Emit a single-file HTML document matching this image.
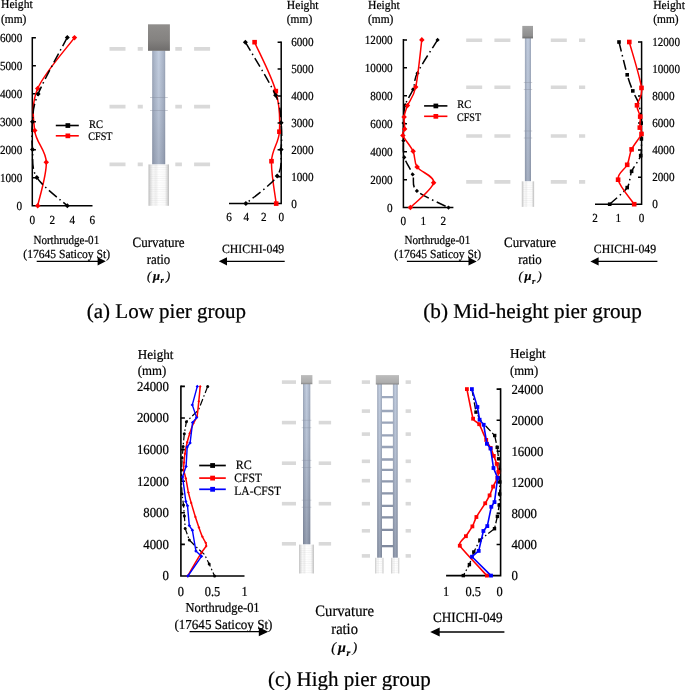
<!DOCTYPE html>
<html><head><meta charset="utf-8"><title>Curvature ratio</title>
<style>html,body{margin:0;padding:0;background:#fff;overflow:hidden}svg{display:block;will-change:transform;opacity:0.999}text{font-family:"Liberation Serif",serif;fill:#000;text-rendering:geometricPrecision;stroke:#000;stroke-width:0.22px}</style>
</head><body>
<svg width="685" height="690" viewBox="0 0 685 690">
<rect width="685" height="690" fill="#fff"/>
<defs>
<linearGradient id="colH" x1="0" x2="1" y1="0" y2="0">
<stop offset="0" stop-color="#98a2b5"/><stop offset="0.14" stop-color="#aab5c8"/><stop offset="0.5" stop-color="#c3cee0"/><stop offset="0.86" stop-color="#aab5c8"/><stop offset="1" stop-color="#98a2b5"/>
</linearGradient>
<linearGradient id="colV" x1="0" x2="0" y1="0" y2="1">
<stop offset="0" stop-color="#000" stop-opacity="0"/><stop offset="0.45" stop-color="#1c2235" stop-opacity="0.05"/><stop offset="1" stop-color="#1c2235" stop-opacity="0.16"/>
</linearGradient>
<linearGradient id="colV2" x1="0" x2="0" y1="0" y2="1">
<stop offset="0" stop-color="#000" stop-opacity="0"/><stop offset="0.35" stop-color="#1c2235" stop-opacity="0.06"/><stop offset="1" stop-color="#1c2235" stop-opacity="0.27"/>
</linearGradient>
<linearGradient id="capV" x1="0" x2="0" y1="0" y2="1">
<stop offset="0" stop-color="#908e8c"/><stop offset="0.6" stop-color="#848280"/><stop offset="1" stop-color="#6f6d6c"/>
</linearGradient>
<linearGradient id="capL" x1="0" x2="0" y1="0" y2="1">
<stop offset="0" stop-color="#bcbcbc"/><stop offset="0.78" stop-color="#adadad"/><stop offset="1" stop-color="#858585"/>
</linearGradient>
<linearGradient id="capM" x1="0" x2="0" y1="0" y2="1">
<stop offset="0" stop-color="#a3a3a3"/><stop offset="0.8" stop-color="#8e8e8e"/><stop offset="1" stop-color="#6c6c6c"/>
</linearGradient>
<linearGradient id="pileH" x1="0" x2="1" y1="0" y2="0">
<stop offset="0" stop-color="#bcbcbc"/><stop offset="0.1" stop-color="#dedede"/><stop offset="0.22" stop-color="#f8f8f8"/><stop offset="0.36" stop-color="#efefef"/><stop offset="0.5" stop-color="#ffffff"/><stop offset="0.8" stop-color="#fafafa"/><stop offset="0.9" stop-color="#dedede"/><stop offset="1" stop-color="#bababa"/>
</linearGradient>
<pattern id="pileP" width="4" height="2.2" patternUnits="userSpaceOnUse"><rect width="4" height="2.2" fill="none"/><rect y="0" width="4" height="0.6" fill="#bdbdbd" fill-opacity="0.18"/></pattern>
</defs>
<text x="1.0" y="8.4" font-size="12.3" text-anchor="start" textLength="31.7" lengthAdjust="spacingAndGlyphs">Height</text>
<text x="1.0" y="23.0" font-size="12.3" text-anchor="start" textLength="25.4" lengthAdjust="spacingAndGlyphs">(mm)</text>
<text x="22.2" y="41.7" font-size="12.3" text-anchor="end" textLength="22.3" lengthAdjust="spacingAndGlyphs">6000</text>
<text x="22.2" y="69.7" font-size="12.3" text-anchor="end" textLength="22.3" lengthAdjust="spacingAndGlyphs">5000</text>
<text x="22.2" y="97.7" font-size="12.3" text-anchor="end" textLength="22.3" lengthAdjust="spacingAndGlyphs">4000</text>
<text x="22.2" y="125.7" font-size="12.3" text-anchor="end" textLength="22.3" lengthAdjust="spacingAndGlyphs">3000</text>
<text x="22.2" y="153.7" font-size="12.3" text-anchor="end" textLength="22.3" lengthAdjust="spacingAndGlyphs">2000</text>
<text x="22.2" y="181.7" font-size="12.3" text-anchor="end" textLength="22.3" lengthAdjust="spacingAndGlyphs">1000</text>
<text x="22.2" y="209.7" font-size="12.3" text-anchor="end" textLength="5.6" lengthAdjust="spacingAndGlyphs">0</text>
<text x="32.3" y="223.7" font-size="12.3" text-anchor="middle" textLength="5.6" lengthAdjust="spacingAndGlyphs">0</text>
<text x="52.3" y="223.7" font-size="12.3" text-anchor="middle" textLength="5.6" lengthAdjust="spacingAndGlyphs">2</text>
<text x="72.3" y="223.7" font-size="12.3" text-anchor="middle" textLength="5.6" lengthAdjust="spacingAndGlyphs">4</text>
<text x="92.3" y="223.7" font-size="12.3" text-anchor="middle" textLength="5.6" lengthAdjust="spacingAndGlyphs">6</text>
<path d="M32.3,37.0V205.8H92.5" fill="none" stroke="#000" stroke-width="1.5" stroke-linejoin="miter"/>
<path d="M32.3,37.8h3.6M32.3,65.8h3.6M32.3,93.8h3.6M32.3,121.8h3.6M32.3,149.8h3.6M32.3,177.8h3.6" stroke="#000" stroke-width="1.5" fill="none"/>
<path d="M74.5,37.6C68.4,46.1 44.3,73.0 37.7,88.5C31.1,104.0 33.3,118.3 34.7,130.6C36.1,142.9 45.8,149.7 46.3,162.2C46.8,174.7 39.1,198.5 37.7,205.8" fill="none" stroke="#ff0000" stroke-width="1.5" stroke-linejoin="round"/>
<path d="M71.8,37.6L74.5,34.9L77.2,37.6L74.5,40.4Z" fill="#ff0000"/>
<path d="M35.0,88.5L37.7,85.8L40.5,88.5L37.7,91.2Z" fill="#ff0000"/>
<path d="M32.0,130.6L34.7,127.8L37.5,130.6L34.7,133.3Z" fill="#ff0000"/>
<path d="M43.5,162.2L46.3,159.4L49.0,162.2L46.3,164.9Z" fill="#ff0000"/>
<path d="M35.0,205.8L37.7,203.1L40.5,205.8L37.7,208.6Z" fill="#ff0000"/>
<path d="M67.3,37.4C62.4,46.8 43.9,79.9 38.1,94.0C32.3,108.1 33.4,112.6 32.5,121.8C31.6,131.0 31.8,140.1 32.5,149.4C33.2,158.7 31.0,168.0 36.8,177.4C42.6,186.8 62.2,201.1 67.3,205.8" fill="none" stroke="#000000" stroke-width="1.5" stroke-linejoin="round" stroke-dasharray="10 3.5 1.5 3.5"/>
<path d="M64.8,37.4L67.3,34.9L69.8,37.4L67.3,39.9Z" fill="#000000"/>
<path d="M35.6,94.0L38.1,91.5L40.6,94.0L38.1,96.5Z" fill="#000000"/>
<path d="M30.0,121.8L32.5,119.3L35.0,121.8L32.5,124.3Z" fill="#000000"/>
<path d="M30.0,149.4L32.5,146.9L35.0,149.4L32.5,151.9Z" fill="#000000"/>
<path d="M34.3,177.4L36.8,174.9L39.3,177.4L36.8,179.9Z" fill="#000000"/>
<path d="M64.8,205.8L67.3,203.3L69.8,205.8L67.3,208.3Z" fill="#000000"/>
<path d="M55.8,125.5H78.8" stroke="#000" stroke-width="1.6"/>
<rect x="65.5" y="123.2" width="4.7" height="4.7" fill="#000000"/>
<path d="M55.8,135.8H78.8" stroke="#ff0000" stroke-width="1.6"/>
<rect x="65.5" y="133.5" width="4.7" height="4.7" fill="#ff0000"/>
<text x="88.9" y="127.9" font-size="11.5" text-anchor="start" textLength="14.0" lengthAdjust="spacingAndGlyphs">RC</text>
<text x="88.3" y="140.4" font-size="11.5" text-anchor="start" textLength="24.2" lengthAdjust="spacingAndGlyphs">CFST</text>
<text x="66.3" y="243.8" font-size="12.3" text-anchor="middle" textLength="65.8" lengthAdjust="spacingAndGlyphs">Northrudge-01</text>
<text x="66.7" y="258.3" font-size="12.3" text-anchor="middle" textLength="86.7" lengthAdjust="spacingAndGlyphs">(17645 Saticoy St)</text>
<path d="M36.7,261.3H99.2" stroke="#000" stroke-width="1.25" fill="none"/>
<path d="M105.8,261.3L97.6,257.2L97.6,265.4Z" fill="#000"/>
<path d="M109.5,48.9H210.2" stroke="#d9d9d9" stroke-width="3.6" stroke-dasharray="16 12.2" fill="none"/>
<path d="M109.5,106.6H210.2" stroke="#d9d9d9" stroke-width="3.6" stroke-dasharray="16 12.2" fill="none"/>
<path d="M109.5,164.4H210.2" stroke="#d9d9d9" stroke-width="3.6" stroke-dasharray="16 12.2" fill="none"/>
<rect x="142.8" y="20" width="32.5" height="190" fill="#fff"/>
<rect x="152.2" y="50.5" width="13.0" height="114.1" fill="url(#colH)"/>
<rect x="152.2" y="50.5" width="13.0" height="114.1" fill="url(#colV)"/>
<path d="M150.0,97.5H167.8M150.0,110.5H167.8" stroke="#858c9c" stroke-width="0.55" stroke-opacity="0.75" fill="none"/>
<rect x="148.0" y="24.3" width="21.9" height="26.5" fill="url(#capV)"/>
<rect x="148.5" y="164.4" width="20.5" height="41.4" fill="url(#pileH)"/>
<rect x="149.5" y="164.4" width="18.5" height="41.4" fill="url(#pileP)"/>
<text x="158.5" y="246.5" font-size="14.2" text-anchor="middle" textLength="52.0" lengthAdjust="spacingAndGlyphs">Curvature</text>
<text x="158.5" y="263.5" font-size="14.2" text-anchor="middle" textLength="23.6" lengthAdjust="spacingAndGlyphs">ratio</text>
<g font-style="italic"><text x="146.9" y="279.7" font-size="12.6">(</text><text x="153.0" y="279.7" font-size="12.6" font-weight="bold">&#956;</text><text x="160.6" y="283.3" font-size="8.6" font-weight="bold">r</text><text x="165.9" y="279.7" font-size="12.6">)</text></g>
<text x="286.8" y="8.6" font-size="12.3" text-anchor="start" textLength="31.7" lengthAdjust="spacingAndGlyphs">Height</text>
<text x="286.8" y="23.0" font-size="12.3" text-anchor="start" textLength="25.4" lengthAdjust="spacingAndGlyphs">(mm)</text>
<text x="291.2" y="46.1" font-size="12.3" text-anchor="start" textLength="22.3" lengthAdjust="spacingAndGlyphs">6000</text>
<text x="291.2" y="73.0" font-size="12.3" text-anchor="start" textLength="22.3" lengthAdjust="spacingAndGlyphs">5000</text>
<text x="291.2" y="99.9" font-size="12.3" text-anchor="start" textLength="22.3" lengthAdjust="spacingAndGlyphs">4000</text>
<text x="291.2" y="126.8" font-size="12.3" text-anchor="start" textLength="22.3" lengthAdjust="spacingAndGlyphs">3000</text>
<text x="291.2" y="153.7" font-size="12.3" text-anchor="start" textLength="22.3" lengthAdjust="spacingAndGlyphs">2000</text>
<text x="291.2" y="180.6" font-size="12.3" text-anchor="start" textLength="22.3" lengthAdjust="spacingAndGlyphs">1000</text>
<text x="291.2" y="207.5" font-size="12.3" text-anchor="start" textLength="5.6" lengthAdjust="spacingAndGlyphs">0</text>
<text x="281.2" y="221.3" font-size="12.3" text-anchor="middle" textLength="5.6" lengthAdjust="spacingAndGlyphs">0</text>
<text x="263.8" y="221.3" font-size="12.3" text-anchor="middle" textLength="5.6" lengthAdjust="spacingAndGlyphs">2</text>
<text x="246.4" y="221.3" font-size="12.3" text-anchor="middle" textLength="5.6" lengthAdjust="spacingAndGlyphs">4</text>
<text x="229.0" y="221.3" font-size="12.3" text-anchor="middle" textLength="5.6" lengthAdjust="spacingAndGlyphs">6</text>
<path d="M281.2,41.5V203.6H229.0" fill="none" stroke="#000" stroke-width="1.5" stroke-linejoin="miter"/>
<path d="M281.2,42.2h-3.6M281.2,69.1h-3.6M281.2,96.0h-3.6M281.2,122.9h-3.6M281.2,149.8h-3.6M281.2,176.7h-3.6" stroke="#000" stroke-width="1.5" fill="none"/>
<path d="M254.6,42.2C258.1,50.4 271.7,76.2 275.8,91.1C279.9,106.0 280.1,120.0 279.4,131.7C278.7,143.4 272.0,149.2 271.5,161.2C271.0,173.2 275.4,196.5 276.2,203.6" fill="none" stroke="#ff0000" stroke-width="1.5" stroke-linejoin="round"/>
<rect x="252.3" y="39.9" width="4.6" height="4.6" fill="#ff0000"/>
<rect x="273.5" y="88.8" width="4.6" height="4.6" fill="#ff0000"/>
<rect x="277.1" y="129.4" width="4.6" height="4.6" fill="#ff0000"/>
<rect x="269.2" y="158.9" width="4.6" height="4.6" fill="#ff0000"/>
<rect x="273.9" y="201.3" width="4.6" height="4.6" fill="#ff0000"/>
<path d="M245.4,42.2C250.4,51.1 269.7,81.9 275.6,95.3C281.6,108.7 280.2,113.7 281.1,122.7C282.0,131.7 281.8,140.5 281.1,149.4C280.5,158.3 283.1,167.0 277.2,176.0C271.3,185.0 251.1,199.0 245.9,203.6" fill="none" stroke="#000000" stroke-width="1.5" stroke-linejoin="round" stroke-dasharray="10 3.5 1.5 3.5"/>
<path d="M242.9,42.2L245.4,39.7L247.9,42.2L245.4,44.7Z" fill="#000000"/>
<path d="M273.1,95.3L275.6,92.8L278.1,95.3L275.6,97.8Z" fill="#000000"/>
<path d="M278.6,122.7L281.1,120.2L283.6,122.7L281.1,125.2Z" fill="#000000"/>
<path d="M278.6,149.4L281.1,146.9L283.6,149.4L281.1,151.9Z" fill="#000000"/>
<path d="M274.7,176.0L277.2,173.5L279.7,176.0L277.2,178.5Z" fill="#000000"/>
<path d="M243.4,203.6L245.9,201.1L248.4,203.6L245.9,206.1Z" fill="#000000"/>
<text x="222.0" y="252.6" font-size="12.6" text-anchor="start" textLength="62.2" lengthAdjust="spacingAndGlyphs">CHICHI-049</text>
<path d="M284.7,261.3H225.4" stroke="#000" stroke-width="1.25" fill="none"/>
<path d="M218.8,261.3L227.0,257.2L227.0,265.4Z" fill="#000"/>
<text x="86.8" y="318.3" font-size="21" text-anchor="start" textLength="159.2" lengthAdjust="spacingAndGlyphs">(a) Low pier group</text>
<text x="368.0" y="8.6" font-size="12.3" text-anchor="start" textLength="31.7" lengthAdjust="spacingAndGlyphs">Height</text>
<text x="368.0" y="23.0" font-size="12.3" text-anchor="start" textLength="25.4" lengthAdjust="spacingAndGlyphs">(mm)</text>
<text x="392.6" y="43.8" font-size="12.3" text-anchor="end" textLength="27.8" lengthAdjust="spacingAndGlyphs">12000</text>
<text x="392.6" y="71.8" font-size="12.3" text-anchor="end" textLength="27.8" lengthAdjust="spacingAndGlyphs">10000</text>
<text x="392.6" y="99.7" font-size="12.3" text-anchor="end" textLength="22.3" lengthAdjust="spacingAndGlyphs">8000</text>
<text x="392.6" y="127.7" font-size="12.3" text-anchor="end" textLength="22.3" lengthAdjust="spacingAndGlyphs">6000</text>
<text x="392.6" y="155.6" font-size="12.3" text-anchor="end" textLength="22.3" lengthAdjust="spacingAndGlyphs">4000</text>
<text x="392.6" y="183.6" font-size="12.3" text-anchor="end" textLength="22.3" lengthAdjust="spacingAndGlyphs">2000</text>
<text x="392.6" y="211.5" font-size="12.3" text-anchor="end" textLength="5.6" lengthAdjust="spacingAndGlyphs">0</text>
<text x="403.4" y="225.2" font-size="12.3" text-anchor="middle" textLength="5.6" lengthAdjust="spacingAndGlyphs">0</text>
<text x="423.3" y="225.2" font-size="12.3" text-anchor="middle" textLength="5.6" lengthAdjust="spacingAndGlyphs">1</text>
<text x="443.2" y="225.2" font-size="12.3" text-anchor="middle" textLength="5.6" lengthAdjust="spacingAndGlyphs">2</text>
<path d="M403.4,39.1V207.6H453.4" fill="none" stroke="#000" stroke-width="1.5" stroke-linejoin="miter"/>
<path d="M403.4,39.9h3.6M403.4,67.8h3.6M403.4,95.8h3.6M403.4,123.8h3.6M403.4,151.7h3.6M403.4,179.7h3.6" stroke="#000" stroke-width="1.5" fill="none"/>
<path d="M437.6,39.9C434.2,45.4 421.6,64.5 417.5,72.7C413.4,80.9 415.2,83.9 413.1,89.3C411.1,94.7 406.8,99.4 405.2,105.0C403.6,110.6 403.9,117.1 403.6,123.1C403.3,129.0 403.3,135.0 403.4,140.7C403.5,146.4 402.8,151.7 404.3,157.3C405.9,162.9 410.6,168.9 412.7,174.5C414.8,180.1 410.9,185.4 416.9,190.9C422.9,196.4 443.2,204.8 448.5,207.6" fill="none" stroke="#000000" stroke-width="1.5" stroke-linejoin="round" stroke-dasharray="10 3.5 1.5 3.5"/>
<path d="M435.5,39.9L437.6,37.8L439.7,39.9L437.6,42.0Z" fill="#000000"/>
<path d="M415.4,73.2L417.5,71.1L419.6,73.2L417.5,75.3Z" fill="#000000"/>
<path d="M411.0,89.3L413.1,87.2L415.2,89.3L413.1,91.4Z" fill="#000000"/>
<path d="M403.1,105.0L405.2,102.9L407.3,105.0L405.2,107.1Z" fill="#000000"/>
<path d="M401.5,123.1L403.6,121.0L405.7,123.1L403.6,125.2Z" fill="#000000"/>
<path d="M401.3,140.7L403.4,138.6L405.5,140.7L403.4,142.8Z" fill="#000000"/>
<path d="M402.2,157.3L404.3,155.2L406.4,157.3L404.3,159.4Z" fill="#000000"/>
<path d="M410.6,174.5L412.7,172.4L414.8,174.5L412.7,176.6Z" fill="#000000"/>
<path d="M414.8,190.9L416.9,188.8L419.0,190.9L416.9,193.0Z" fill="#000000"/>
<path d="M446.4,207.6L448.5,205.5L450.6,207.6L448.5,209.7Z" fill="#000000"/>
<path d="M421.8,39.9C420.8,47.8 418.1,76.1 415.7,87.1C413.3,98.0 409.4,100.6 407.5,105.6C405.6,110.6 404.6,113.1 404.1,117.0C403.6,120.9 404.9,125.8 404.7,128.9C404.5,132.0 401.5,131.7 402.9,135.4C404.3,139.1 410.7,145.9 413.1,151.2C415.5,156.4 413.7,161.7 417.1,166.9C420.5,172.2 434.7,175.9 433.6,182.7C432.5,189.5 414.3,203.4 410.4,207.6" fill="none" stroke="#ff0000" stroke-width="1.5" stroke-linejoin="round"/>
<path d="M419.1,39.9L421.8,37.1L424.6,39.9L421.8,42.6Z" fill="#ff0000"/>
<path d="M412.9,87.1L415.7,84.3L418.4,87.1L415.7,89.8Z" fill="#ff0000"/>
<path d="M404.8,105.6L407.5,102.8L410.2,105.6L407.5,108.3Z" fill="#ff0000"/>
<path d="M401.4,117.0L404.1,114.2L406.9,117.0L404.1,119.8Z" fill="#ff0000"/>
<path d="M401.9,128.9L404.7,126.2L407.4,128.9L404.7,131.7Z" fill="#ff0000"/>
<path d="M400.1,135.4L402.9,132.7L405.6,135.4L402.9,138.2Z" fill="#ff0000"/>
<path d="M410.4,151.2L413.1,148.4L415.9,151.2L413.1,153.9Z" fill="#ff0000"/>
<path d="M414.4,166.9L417.1,164.2L419.9,166.9L417.1,169.7Z" fill="#ff0000"/>
<path d="M430.9,182.7L433.6,179.9L436.4,182.7L433.6,185.4Z" fill="#ff0000"/>
<path d="M407.6,207.6L410.4,204.8L413.1,207.6L410.4,210.3Z" fill="#ff0000"/>
<path d="M424.1,105.9H447.4" stroke="#000" stroke-width="1.6"/>
<rect x="433.5" y="103.6" width="4.7" height="4.7" fill="#000000"/>
<path d="M424.1,116.3H447.4" stroke="#ff0000" stroke-width="1.6"/>
<rect x="433.5" y="114.0" width="4.7" height="4.7" fill="#ff0000"/>
<text x="457.3" y="108.4" font-size="11.5" text-anchor="start" textLength="14.0" lengthAdjust="spacingAndGlyphs">RC</text>
<text x="456.9" y="120.9" font-size="11.5" text-anchor="start" textLength="24.2" lengthAdjust="spacingAndGlyphs">CFST</text>
<text x="437.3" y="243.8" font-size="12.3" text-anchor="middle" textLength="65.8" lengthAdjust="spacingAndGlyphs">Northrudge-01</text>
<text x="437.7" y="258.3" font-size="12.3" text-anchor="middle" textLength="86.7" lengthAdjust="spacingAndGlyphs">(17645 Saticoy St)</text>
<path d="M406.9,261.4H470.1" stroke="#000" stroke-width="1.25" fill="none"/>
<path d="M476.7,261.4L468.5,257.3L468.5,265.5Z" fill="#000"/>
<path d="M466.2,40.2H585.2" stroke="#d9d9d9" stroke-width="3.6" stroke-dasharray="16 12.2" fill="none"/>
<path d="M466.2,87.3H585.2" stroke="#d9d9d9" stroke-width="3.6" stroke-dasharray="16 12.2" fill="none"/>
<path d="M466.2,136.0H585.2" stroke="#d9d9d9" stroke-width="3.6" stroke-dasharray="16 12.2" fill="none"/>
<path d="M466.2,181.9H585.2" stroke="#d9d9d9" stroke-width="3.6" stroke-dasharray="16 12.2" fill="none"/>
<rect x="518" y="20" width="21.5" height="190" fill="#fff"/>
<rect x="524.9" y="38.0" width="6.1" height="143.5" fill="url(#colH)"/>
<rect x="524.9" y="38.0" width="6.1" height="143.5" fill="url(#colV)"/>
<path d="M523.8,82.5H532.2M523.8,89.5H532.2M523.8,131.0H532.2M523.8,138.0H532.2" stroke="#858c9c" stroke-width="0.5" stroke-opacity="0.75" fill="none"/>
<rect x="522.3" y="25.9" width="10.7" height="12.5" fill="url(#capM)"/>
<rect x="521.8" y="181.3" width="12.3" height="25.6" fill="url(#pileH)"/>
<rect x="522.8" y="181.3" width="10.3" height="25.6" fill="url(#pileP)"/>
<text x="530.0" y="247.0" font-size="14.2" text-anchor="middle" textLength="52.0" lengthAdjust="spacingAndGlyphs">Curvature</text>
<text x="530.0" y="264.0" font-size="14.2" text-anchor="middle" textLength="23.6" lengthAdjust="spacingAndGlyphs">ratio</text>
<g font-style="italic"><text x="518.4" y="280.2" font-size="12.6">(</text><text x="524.5" y="280.2" font-size="12.6" font-weight="bold">&#956;</text><text x="532.1" y="283.8" font-size="8.6" font-weight="bold">r</text><text x="537.4" y="280.2" font-size="12.6">)</text></g>
<text x="653.2" y="8.6" font-size="12.3" text-anchor="start" textLength="31.7" lengthAdjust="spacingAndGlyphs">Height</text>
<text x="653.2" y="23.0" font-size="12.3" text-anchor="start" textLength="25.4" lengthAdjust="spacingAndGlyphs">(mm)</text>
<text x="652.2" y="45.9" font-size="12.3" text-anchor="start" textLength="27.8" lengthAdjust="spacingAndGlyphs">12000</text>
<text x="652.2" y="72.9" font-size="12.3" text-anchor="start" textLength="27.8" lengthAdjust="spacingAndGlyphs">10000</text>
<text x="652.2" y="100.0" font-size="12.3" text-anchor="start" textLength="22.3" lengthAdjust="spacingAndGlyphs">8000</text>
<text x="652.2" y="127.0" font-size="12.3" text-anchor="start" textLength="22.3" lengthAdjust="spacingAndGlyphs">6000</text>
<text x="652.2" y="154.0" font-size="12.3" text-anchor="start" textLength="22.3" lengthAdjust="spacingAndGlyphs">4000</text>
<text x="652.2" y="181.1" font-size="12.3" text-anchor="start" textLength="22.3" lengthAdjust="spacingAndGlyphs">2000</text>
<text x="652.2" y="208.1" font-size="12.3" text-anchor="start" textLength="5.6" lengthAdjust="spacingAndGlyphs">0</text>
<text x="641.6" y="221.8" font-size="12.3" text-anchor="middle" textLength="5.6" lengthAdjust="spacingAndGlyphs">0</text>
<text x="618.3" y="221.8" font-size="12.3" text-anchor="middle" textLength="5.6" lengthAdjust="spacingAndGlyphs">1</text>
<text x="595.1" y="221.8" font-size="12.3" text-anchor="middle" textLength="5.6" lengthAdjust="spacingAndGlyphs">2</text>
<path d="M641.6,41.2V204.2H595.0" fill="none" stroke="#000" stroke-width="1.5" stroke-linejoin="miter"/>
<path d="M641.6,42.0h-3.6M641.6,69.0h-3.6M641.6,96.1h-3.6M641.6,123.1h-3.6M641.6,150.1h-3.6M641.6,177.2h-3.6" stroke="#000" stroke-width="1.5" fill="none"/>
<path d="M619.0,42.0C620.1,46.4 625.4,68.3 627.2,74.8C629.0,81.3 631.3,87.2 632.8,90.9C634.3,94.6 637.3,99.6 638.3,102.5C639.3,105.4 640.2,110.3 640.6,113.0C641.0,115.7 641.1,119.6 641.2,123.1C641.3,126.6 641.5,134.6 641.4,138.9C641.3,143.2 642.0,151.3 640.7,155.6C639.4,159.9 633.4,167.0 631.6,171.3C629.8,175.6 630.1,183.2 627.2,187.6C624.3,192.0 612.0,202.0 609.7,204.2" fill="none" stroke="#000000" stroke-width="1.5" stroke-linejoin="round" stroke-dasharray="10 3.5 1.5 3.5"/>
<rect x="617.2" y="40.2" width="3.6" height="3.6" fill="#000000"/>
<rect x="625.4" y="73.0" width="3.6" height="3.6" fill="#000000"/>
<rect x="631.0" y="89.1" width="3.6" height="3.6" fill="#000000"/>
<rect x="639.4" y="121.3" width="3.6" height="3.6" fill="#000000"/>
<rect x="639.6" y="137.1" width="3.6" height="3.6" fill="#000000"/>
<rect x="638.9" y="153.8" width="3.6" height="3.6" fill="#000000"/>
<rect x="629.8" y="169.5" width="3.6" height="3.6" fill="#000000"/>
<rect x="625.4" y="185.8" width="3.6" height="3.6" fill="#000000"/>
<rect x="607.9" y="202.4" width="3.6" height="3.6" fill="#000000"/>
<path d="M629.3,42.0C631.3,49.6 640.2,77.4 641.5,87.9C642.8,98.5 637.2,100.5 637.0,105.3C636.8,110.1 639.7,112.9 640.2,116.6C640.7,120.3 639.6,124.7 639.8,127.6C640.0,130.5 642.9,130.4 641.5,134.0C640.1,137.6 634.0,144.3 631.6,149.4C629.2,154.5 629.5,159.8 627.2,164.8C625.0,169.9 616.9,173.1 618.1,179.7C619.3,186.3 631.5,200.1 634.2,204.2" fill="none" stroke="#ff0000" stroke-width="1.5" stroke-linejoin="round"/>
<rect x="627.0" y="39.7" width="4.6" height="4.6" fill="#ff0000"/>
<rect x="639.2" y="85.6" width="4.6" height="4.6" fill="#ff0000"/>
<rect x="634.7" y="103.0" width="4.6" height="4.6" fill="#ff0000"/>
<rect x="637.9" y="114.3" width="4.6" height="4.6" fill="#ff0000"/>
<rect x="637.5" y="125.3" width="4.6" height="4.6" fill="#ff0000"/>
<rect x="639.2" y="131.7" width="4.6" height="4.6" fill="#ff0000"/>
<rect x="629.3" y="147.1" width="4.6" height="4.6" fill="#ff0000"/>
<rect x="624.9" y="162.5" width="4.6" height="4.6" fill="#ff0000"/>
<rect x="615.8" y="177.4" width="4.6" height="4.6" fill="#ff0000"/>
<rect x="631.9" y="201.9" width="4.6" height="4.6" fill="#ff0000"/>
<text x="593.8" y="252.8" font-size="12.6" text-anchor="start" textLength="62.4" lengthAdjust="spacingAndGlyphs">CHICHI-049</text>
<path d="M657.4,261.4H597.0" stroke="#000" stroke-width="1.25" fill="none"/>
<path d="M590.4,261.4L598.6,257.3L598.6,265.5Z" fill="#000"/>
<text x="423.3" y="318.3" font-size="21" text-anchor="start" textLength="218.5" lengthAdjust="spacingAndGlyphs">(b) Mid-height pier group</text>
<text x="137.8" y="358.8" font-size="13.7" text-anchor="start" textLength="35.7" lengthAdjust="spacingAndGlyphs">Height</text>
<text x="137.8" y="374.5" font-size="13.7" text-anchor="start" textLength="28.5" lengthAdjust="spacingAndGlyphs">(mm)</text>
<text x="168.9" y="390.8" font-size="13.7" text-anchor="end" textLength="32.0" lengthAdjust="spacingAndGlyphs">24000</text>
<text x="168.9" y="422.4" font-size="13.7" text-anchor="end" textLength="32.0" lengthAdjust="spacingAndGlyphs">20000</text>
<text x="168.9" y="454.0" font-size="13.7" text-anchor="end" textLength="32.0" lengthAdjust="spacingAndGlyphs">16000</text>
<text x="168.9" y="485.6" font-size="13.7" text-anchor="end" textLength="32.0" lengthAdjust="spacingAndGlyphs">12000</text>
<text x="168.9" y="517.2" font-size="13.7" text-anchor="end" textLength="25.6" lengthAdjust="spacingAndGlyphs">8000</text>
<text x="168.9" y="548.8" font-size="13.7" text-anchor="end" textLength="25.6" lengthAdjust="spacingAndGlyphs">4000</text>
<text x="168.9" y="580.4" font-size="13.7" text-anchor="end" textLength="6.4" lengthAdjust="spacingAndGlyphs">0</text>
<text x="180.9" y="596.0" font-size="13.7" text-anchor="middle" textLength="6.2" lengthAdjust="spacingAndGlyphs">0</text>
<text x="212.5" y="596.0" font-size="13.7" text-anchor="middle" textLength="15.5" lengthAdjust="spacingAndGlyphs">0.5</text>
<text x="244.5" y="596.0" font-size="13.7" text-anchor="middle" textLength="6.2" lengthAdjust="spacingAndGlyphs">1</text>
<path d="M180.9,385.6V576.0H244.5" fill="none" stroke="#000" stroke-width="1.6" stroke-linejoin="miter"/>
<path d="M180.9,386.4h4.0M180.9,418.0h4.0M180.9,449.6h4.0M180.9,481.2h4.0M180.9,512.8h4.0M180.9,544.4h4.0" stroke="#000" stroke-width="1.6" fill="none"/>
<path d="M207.7,386.4L198.5,410.0L186.4,421.7L184.3,433.8L183.1,446.5L182.2,458.0L181.6,470.0L181.5,482.0L182.0,494.0L183.5,505.0L184.4,516.0L185.2,528.6L189.3,540.0L196.6,547.3L204.5,554.5L209.2,564.0L214.6,576.0" fill="none" stroke="#000000" stroke-width="1.2" stroke-linejoin="round" stroke-dasharray="7 2.5 1.5 2.5"/>
<circle cx="207.7" cy="386.4" r="1.5" fill="#000000"/>
<circle cx="186.4" cy="421.7" r="1.5" fill="#000000"/>
<circle cx="184.3" cy="433.8" r="1.5" fill="#000000"/>
<circle cx="183.1" cy="446.5" r="1.5" fill="#000000"/>
<circle cx="182.2" cy="458.0" r="1.5" fill="#000000"/>
<circle cx="181.6" cy="470.0" r="1.5" fill="#000000"/>
<circle cx="182.0" cy="494.0" r="1.5" fill="#000000"/>
<circle cx="183.5" cy="505.0" r="1.5" fill="#000000"/>
<circle cx="184.4" cy="516.0" r="1.5" fill="#000000"/>
<circle cx="185.2" cy="528.6" r="1.5" fill="#000000"/>
<circle cx="189.3" cy="540.0" r="1.5" fill="#000000"/>
<circle cx="209.2" cy="564.0" r="1.5" fill="#000000"/>
<circle cx="214.6" cy="576.0" r="1.5" fill="#000000"/>
<path d="M200.2,386.4C200.1,387.9 199.1,398.3 198.8,401.3C198.5,404.3 197.5,414.4 197.0,416.6C196.5,418.8 194.1,421.5 193.4,423.2C192.7,424.9 190.3,431.5 189.7,433.4C189.1,435.3 187.7,440.2 187.2,442.2C186.7,444.2 185.2,451.8 184.9,453.8C184.6,455.8 184.1,461.0 184.0,462.6C183.9,464.2 183.5,468.4 183.7,470.0C183.9,471.6 185.3,476.2 185.8,478.4C186.3,480.6 187.9,489.9 188.4,492.4C188.9,494.8 190.5,500.4 191.2,502.9C191.9,505.3 194.6,514.4 195.4,516.9C196.2,519.4 198.2,525.4 198.9,527.4C199.6,529.4 201.7,535.3 202.4,536.8C203.1,538.3 205.3,541.9 205.7,542.8C206.1,543.7 206.6,545.0 206.2,546.0C205.8,547.0 203.0,550.1 201.2,553.1C199.3,556.1 189.0,573.7 187.7,576.0" fill="none" stroke="#ff0000" stroke-width="1.5" stroke-linejoin="round"/>
<path d="M198.8,386.4L200.2,385.0L201.6,386.4L200.2,387.8Z" fill="#ff0000"/>
<path d="M197.4,401.3L198.8,399.9L200.2,401.3L198.8,402.7Z" fill="#ff0000"/>
<path d="M195.6,416.6L197.0,415.2L198.4,416.6L197.0,418.0Z" fill="#ff0000"/>
<path d="M192.0,423.2L193.4,421.8L194.8,423.2L193.4,424.6Z" fill="#ff0000"/>
<path d="M188.3,433.4L189.7,432.0L191.1,433.4L189.7,434.8Z" fill="#ff0000"/>
<path d="M185.8,442.2L187.2,440.8L188.6,442.2L187.2,443.6Z" fill="#ff0000"/>
<path d="M183.5,453.8L184.9,452.4L186.3,453.8L184.9,455.2Z" fill="#ff0000"/>
<path d="M182.6,462.6L184.0,461.2L185.4,462.6L184.0,464.0Z" fill="#ff0000"/>
<path d="M182.3,470.0L183.7,468.6L185.1,470.0L183.7,471.4Z" fill="#ff0000"/>
<path d="M184.4,478.4L185.8,477.0L187.2,478.4L185.8,479.8Z" fill="#ff0000"/>
<path d="M187.0,492.4L188.4,491.0L189.8,492.4L188.4,493.8Z" fill="#ff0000"/>
<path d="M189.8,502.9L191.2,501.5L192.6,502.9L191.2,504.3Z" fill="#ff0000"/>
<path d="M194.0,516.9L195.4,515.5L196.8,516.9L195.4,518.3Z" fill="#ff0000"/>
<path d="M197.5,527.4L198.9,526.0L200.3,527.4L198.9,528.8Z" fill="#ff0000"/>
<path d="M201.0,536.8L202.4,535.4L203.8,536.8L202.4,538.2Z" fill="#ff0000"/>
<path d="M204.3,542.8L205.7,541.4L207.1,542.8L205.7,544.2Z" fill="#ff0000"/>
<path d="M204.8,546.0L206.2,544.6L207.6,546.0L206.2,547.4Z" fill="#ff0000"/>
<path d="M199.8,553.1L201.2,551.7L202.6,553.1L201.2,554.5Z" fill="#ff0000"/>
<path d="M186.3,576.0L187.7,574.6L189.1,576.0L187.7,577.4Z" fill="#ff0000"/>
<path d="M197.3,386.4L192.3,404.9L196.6,417.6L192.6,422.4L190.1,442.9L187.2,447.0L186.1,466.4L182.6,476.9L185.8,501.4L187.5,505.8L189.3,525.6L192.4,530.3L195.9,551.0L201.5,556.3L187.9,576.0" fill="none" stroke="#0000ff" stroke-width="1.4" stroke-linejoin="round"/>
<path d="M195.6,386.4L197.3,384.7L199.0,386.4L197.3,388.1Z" fill="#0000ff"/>
<path d="M190.6,404.9L192.3,403.2L194.0,404.9L192.3,406.6Z" fill="#0000ff"/>
<path d="M194.9,417.6L196.6,415.9L198.3,417.6L196.6,419.3Z" fill="#0000ff"/>
<path d="M190.9,422.4L192.6,420.7L194.3,422.4L192.6,424.1Z" fill="#0000ff"/>
<path d="M188.4,442.9L190.1,441.2L191.8,442.9L190.1,444.6Z" fill="#0000ff"/>
<path d="M185.5,447.0L187.2,445.3L188.9,447.0L187.2,448.7Z" fill="#0000ff"/>
<path d="M184.4,466.4L186.1,464.7L187.8,466.4L186.1,468.1Z" fill="#0000ff"/>
<path d="M180.9,476.9L182.6,475.2L184.3,476.9L182.6,478.6Z" fill="#0000ff"/>
<path d="M184.1,501.4L185.8,499.7L187.5,501.4L185.8,503.1Z" fill="#0000ff"/>
<path d="M185.8,505.8L187.5,504.1L189.2,505.8L187.5,507.5Z" fill="#0000ff"/>
<path d="M187.6,525.6L189.3,523.9L191.0,525.6L189.3,527.3Z" fill="#0000ff"/>
<path d="M190.7,530.3L192.4,528.6L194.1,530.3L192.4,532.0Z" fill="#0000ff"/>
<path d="M194.2,551.0L195.9,549.3L197.6,551.0L195.9,552.7Z" fill="#0000ff"/>
<path d="M199.8,556.3L201.5,554.6L203.2,556.3L201.5,558.0Z" fill="#0000ff"/>
<path d="M186.2,576.0L187.9,574.3L189.6,576.0L187.9,577.7Z" fill="#0000ff"/>
<path d="M199.2,465.5H225.8" stroke="#000000" stroke-width="1.7"/>
<rect x="210.2" y="463.1" width="4.8" height="4.8" fill="#000000"/>
<text x="235.8" y="468.9" font-size="12.8" text-anchor="start" textLength="16.0" lengthAdjust="spacingAndGlyphs">RC</text>
<path d="M199.2,478.1H225.8" stroke="#ff0000" stroke-width="1.7"/>
<rect x="210.2" y="475.7" width="4.8" height="4.8" fill="#ff0000"/>
<text x="234.3" y="482.4" font-size="12.8" text-anchor="start" textLength="27.6" lengthAdjust="spacingAndGlyphs">CFST</text>
<path d="M199.2,489.3H225.8" stroke="#0000ff" stroke-width="1.7"/>
<rect x="210.2" y="486.9" width="4.8" height="4.8" fill="#0000ff"/>
<text x="234.3" y="494.7" font-size="12.8" text-anchor="start" textLength="46.8" lengthAdjust="spacingAndGlyphs">LA-CFST</text>
<text x="222.6" y="611.6" font-size="13.7" text-anchor="middle" textLength="74.0" lengthAdjust="spacingAndGlyphs">Northrudge-01</text>
<text x="223.4" y="628.6" font-size="13.7" text-anchor="middle" textLength="98.0" lengthAdjust="spacingAndGlyphs">(17645 Saticoy St)</text>
<path d="M189.6,631.7H260.7" stroke="#000" stroke-width="1.3" fill="none"/>
<path d="M268.3,631.7L258.8,627.2L258.8,636.2Z" fill="#000"/>
<rect x="281.9" y="380.3" width="14.1" height="3.6" fill="#d9d9d9"/>
<rect x="318.7" y="380.3" width="12.4" height="3.6" fill="#d9d9d9"/>
<rect x="281.9" y="420.8" width="14.1" height="3.6" fill="#d9d9d9"/>
<rect x="318.7" y="420.8" width="12.4" height="3.6" fill="#d9d9d9"/>
<rect x="281.9" y="461.4" width="14.1" height="3.6" fill="#d9d9d9"/>
<rect x="318.7" y="461.4" width="12.4" height="3.6" fill="#d9d9d9"/>
<rect x="281.9" y="501.9" width="14.1" height="3.6" fill="#d9d9d9"/>
<rect x="318.7" y="501.9" width="12.4" height="3.6" fill="#d9d9d9"/>
<rect x="281.9" y="542.0" width="14.1" height="3.6" fill="#d9d9d9"/>
<rect x="318.7" y="542.0" width="12.4" height="3.6" fill="#d9d9d9"/>
<rect x="303.0" y="384.0" width="7.3" height="160.4" fill="url(#colH)"/>
<rect x="303.0" y="384.0" width="7.3" height="160.4" fill="url(#colV2)"/>
<path d="M301.7,420.3H311.4M301.7,427.7H311.4M301.7,460.4H311.4M301.7,467.5H311.4M301.7,500.2H311.4M301.7,507.3H311.4" stroke="#8891a3" stroke-width="0.45" stroke-opacity="0.75" fill="none"/>
<rect x="301.0" y="375.1" width="11.4" height="9.1" fill="url(#capL)"/>
<rect x="299.1" y="544.6" width="14.8" height="28.9" fill="url(#pileH)"/>
<rect x="300.1" y="544.6" width="12.8" height="28.9" fill="url(#pileP)"/>
<rect x="361.8" y="380.3" width="8.2" height="3.6" fill="#d9d9d9"/>
<rect x="405.6" y="380.3" width="5.3" height="3.6" fill="#d9d9d9"/>
<rect x="361.8" y="409.3" width="8.2" height="3.6" fill="#d9d9d9"/>
<rect x="405.6" y="409.3" width="5.3" height="3.6" fill="#d9d9d9"/>
<rect x="361.8" y="432.3" width="8.2" height="3.6" fill="#d9d9d9"/>
<rect x="405.6" y="432.3" width="5.3" height="3.6" fill="#d9d9d9"/>
<rect x="361.8" y="459.5" width="8.2" height="3.6" fill="#d9d9d9"/>
<rect x="405.6" y="459.5" width="5.3" height="3.6" fill="#d9d9d9"/>
<rect x="361.8" y="478.9" width="8.2" height="3.6" fill="#d9d9d9"/>
<rect x="405.6" y="478.9" width="5.3" height="3.6" fill="#d9d9d9"/>
<rect x="361.8" y="501.9" width="8.2" height="3.6" fill="#d9d9d9"/>
<rect x="405.6" y="501.9" width="5.3" height="3.6" fill="#d9d9d9"/>
<rect x="361.8" y="529.0" width="8.2" height="3.6" fill="#d9d9d9"/>
<rect x="405.6" y="529.0" width="5.3" height="3.6" fill="#d9d9d9"/>
<rect x="361.8" y="554.1" width="8.2" height="3.6" fill="#d9d9d9"/>
<rect x="405.6" y="554.1" width="5.3" height="3.6" fill="#d9d9d9"/>
<defs><clipPath id="rungclip"><rect x="381" y="396.05" width="13" height="2.3"/><rect x="381" y="409.85" width="13" height="2.3"/><rect x="381" y="421.45" width="13" height="2.3"/><rect x="381" y="434.15" width="13" height="2.3"/><rect x="381" y="445.85" width="13" height="2.3"/><rect x="381" y="458.35" width="13" height="2.3"/><rect x="381" y="468.65" width="13" height="2.3"/><rect x="381" y="480.15" width="13" height="2.3"/><rect x="381" y="492.25" width="13" height="2.3"/><rect x="381" y="504.75" width="13" height="2.3"/><rect x="381" y="516.25" width="13" height="2.3"/><rect x="381" y="528.65" width="13" height="2.3"/><rect x="381" y="544.95" width="13" height="2.3"/></clipPath></defs>
<path d="M381,397.2H394M381,411.0H394M381,422.6H394M381,435.3H394M381,447.0H394M381,459.5H394M381,469.8H394M381,481.3H394M381,493.4H394M381,505.9H394M381,517.4H394M381,529.8H394M381,546.1H394" stroke="#a0abc0" stroke-width="2.3" fill="none"/>
<rect x="381" y="384" width="13" height="174" fill="url(#colV2)" clip-path="url(#rungclip)"/>
<rect x="377.2" y="384.0" width="4.8" height="173.8" fill="url(#colH)"/>
<rect x="377.2" y="384.0" width="4.8" height="173.8" fill="url(#colV2)"/>
<rect x="392.9" y="384.0" width="4.8" height="173.8" fill="url(#colH)"/>
<rect x="392.9" y="384.0" width="4.8" height="173.8" fill="url(#colV2)"/>
<rect x="375.8" y="375.1" width="23.2" height="9.4" fill="url(#capL)"/>
<rect x="375.2" y="557.8" width="8.2" height="15.7" fill="url(#pileH)"/>
<rect x="376.2" y="557.8" width="6.2" height="15.7" fill="url(#pileP)"/>
<rect x="391.2" y="557.8" width="8.0" height="15.7" fill="url(#pileH)"/>
<rect x="392.2" y="557.8" width="6.0" height="15.7" fill="url(#pileP)"/>
<text x="344.6" y="615.5" font-size="15.9" text-anchor="middle" textLength="58.6" lengthAdjust="spacingAndGlyphs">Curvature</text>
<text x="344.6" y="633.8" font-size="15.9" text-anchor="middle" textLength="26.6" lengthAdjust="spacingAndGlyphs">ratio</text>
<g font-style="italic"><text x="331.3" y="652.0" font-size="14.1">(</text><text x="338.1" y="652.0" font-size="14.1" font-weight="bold">&#956;</text><text x="346.6" y="656.0" font-size="9.6" font-weight="bold">r</text><text x="352.6" y="652.0" font-size="14.1">)</text></g>
<text x="509.9" y="358.4" font-size="13.7" text-anchor="start" textLength="35.9" lengthAdjust="spacingAndGlyphs">Height</text>
<text x="509.9" y="374.8" font-size="13.7" text-anchor="start" textLength="28.3" lengthAdjust="spacingAndGlyphs">(mm)</text>
<text x="511.4" y="393.5" font-size="13.7" text-anchor="start" textLength="32.0" lengthAdjust="spacingAndGlyphs">24000</text>
<text x="511.4" y="424.6" font-size="13.7" text-anchor="start" textLength="32.0" lengthAdjust="spacingAndGlyphs">20000</text>
<text x="511.4" y="455.7" font-size="13.7" text-anchor="start" textLength="32.0" lengthAdjust="spacingAndGlyphs">16000</text>
<text x="511.4" y="486.8" font-size="13.7" text-anchor="start" textLength="32.0" lengthAdjust="spacingAndGlyphs">12000</text>
<text x="511.4" y="517.8" font-size="13.7" text-anchor="start" textLength="25.6" lengthAdjust="spacingAndGlyphs">8000</text>
<text x="511.4" y="548.9" font-size="13.7" text-anchor="start" textLength="25.6" lengthAdjust="spacingAndGlyphs">4000</text>
<text x="511.4" y="580.0" font-size="13.7" text-anchor="start" textLength="6.4" lengthAdjust="spacingAndGlyphs">0</text>
<text x="499.6" y="596.0" font-size="13.7" text-anchor="middle" textLength="6.2" lengthAdjust="spacingAndGlyphs">0</text>
<text x="473.3" y="596.0" font-size="13.7" text-anchor="middle" textLength="15.5" lengthAdjust="spacingAndGlyphs">0.5</text>
<text x="446.0" y="596.0" font-size="13.7" text-anchor="middle" textLength="6.2" lengthAdjust="spacingAndGlyphs">1</text>
<path d="M500.6,388.3V575.6H446.1" fill="none" stroke="#000" stroke-width="1.6" stroke-linejoin="miter"/>
<path d="M500.6,389.1h-4.0M500.6,420.2h-4.0M500.6,451.3h-4.0M500.6,482.4h-4.0M500.6,513.4h-4.0M500.6,544.5h-4.0" stroke="#000" stroke-width="1.6" fill="none"/>
<path d="M471.9,389.1L476.0,412.1L481.0,421.0L494.7,435.5L497.2,447.4L498.6,458.8L499.4,470.0L499.8,482.0L499.6,494.0L499.2,505.0L497.4,516.4L494.5,528.7L479.9,540.1L473.8,552.0L469.4,564.6L463.3,575.6" fill="none" stroke="#000000" stroke-width="1.3" stroke-linejoin="round" stroke-dasharray="7 2.5 1.5 2.5"/>
<rect x="474.3" y="410.4" width="3.4" height="3.4" fill="#000000"/>
<rect x="493.0" y="433.8" width="3.4" height="3.4" fill="#000000"/>
<rect x="495.5" y="445.7" width="3.4" height="3.4" fill="#000000"/>
<rect x="496.9" y="457.1" width="3.4" height="3.4" fill="#000000"/>
<rect x="497.7" y="468.3" width="3.4" height="3.4" fill="#000000"/>
<rect x="498.1" y="480.3" width="3.4" height="3.4" fill="#000000"/>
<rect x="497.9" y="492.3" width="3.4" height="3.4" fill="#000000"/>
<rect x="497.5" y="503.3" width="3.4" height="3.4" fill="#000000"/>
<rect x="495.7" y="514.7" width="3.4" height="3.4" fill="#000000"/>
<rect x="492.8" y="527.0" width="3.4" height="3.4" fill="#000000"/>
<rect x="478.2" y="538.4" width="3.4" height="3.4" fill="#000000"/>
<rect x="472.1" y="550.3" width="3.4" height="3.4" fill="#000000"/>
<rect x="467.7" y="562.9" width="3.4" height="3.4" fill="#000000"/>
<rect x="461.6" y="573.9" width="3.4" height="3.4" fill="#000000"/>
<path d="M466.9,389.1C467.4,391.6 472.1,415.8 473.1,418.7C474.1,421.6 478.1,422.4 479.2,424.2C480.3,426.0 485.2,437.9 486.2,439.9C487.1,441.9 490.0,446.6 490.6,447.9C491.2,449.2 493.3,454.6 493.8,455.9C494.3,457.2 496.3,462.6 496.7,463.9C497.1,465.2 498.2,470.8 498.3,472.0C498.4,473.2 497.8,476.7 497.4,477.9C497.0,479.1 493.8,485.1 493.1,486.6C492.5,488.1 490.3,494.0 489.6,495.4C488.9,496.8 486.3,501.5 485.2,503.3C484.1,505.1 477.5,515.1 476.4,517.0C475.3,518.9 473.3,524.8 472.4,526.4C471.5,528.0 466.9,534.6 465.9,536.2C464.8,537.8 458.1,542.4 459.8,545.7C461.6,549.0 484.6,573.1 486.9,575.6" fill="none" stroke="#ff0000" stroke-width="1.6" stroke-linejoin="round"/>
<rect x="465.0" y="387.2" width="3.8" height="3.8" fill="#ff0000"/>
<rect x="471.2" y="416.8" width="3.8" height="3.8" fill="#ff0000"/>
<rect x="477.3" y="422.3" width="3.8" height="3.8" fill="#ff0000"/>
<rect x="484.3" y="438.0" width="3.8" height="3.8" fill="#ff0000"/>
<rect x="488.7" y="446.0" width="3.8" height="3.8" fill="#ff0000"/>
<rect x="491.9" y="454.0" width="3.8" height="3.8" fill="#ff0000"/>
<rect x="494.8" y="462.0" width="3.8" height="3.8" fill="#ff0000"/>
<rect x="496.4" y="470.1" width="3.8" height="3.8" fill="#ff0000"/>
<rect x="495.5" y="476.0" width="3.8" height="3.8" fill="#ff0000"/>
<rect x="491.2" y="484.7" width="3.8" height="3.8" fill="#ff0000"/>
<rect x="487.7" y="493.5" width="3.8" height="3.8" fill="#ff0000"/>
<rect x="483.3" y="501.4" width="3.8" height="3.8" fill="#ff0000"/>
<rect x="474.5" y="515.1" width="3.8" height="3.8" fill="#ff0000"/>
<rect x="470.5" y="524.5" width="3.8" height="3.8" fill="#ff0000"/>
<rect x="464.0" y="534.3" width="3.8" height="3.8" fill="#ff0000"/>
<rect x="457.9" y="543.8" width="3.8" height="3.8" fill="#ff0000"/>
<rect x="485.0" y="573.7" width="3.8" height="3.8" fill="#ff0000"/>
<path d="M471.9,389.1L477.4,407.0L479.6,419.7L483.7,424.8L486.9,443.8L490.6,448.6L493.5,468.0L497.6,477.9L494.5,502.1L491.3,506.8L487.3,526.1L483.4,531.0L478.7,550.9L472.0,556.7L491.0,575.6" fill="none" stroke="#0000ff" stroke-width="1.6" stroke-linejoin="round"/>
<rect x="470.0" y="387.2" width="3.8" height="3.8" fill="#0000ff"/>
<rect x="475.5" y="405.1" width="3.8" height="3.8" fill="#0000ff"/>
<rect x="477.7" y="417.8" width="3.8" height="3.8" fill="#0000ff"/>
<rect x="481.8" y="422.9" width="3.8" height="3.8" fill="#0000ff"/>
<rect x="485.0" y="441.9" width="3.8" height="3.8" fill="#0000ff"/>
<rect x="488.7" y="446.7" width="3.8" height="3.8" fill="#0000ff"/>
<rect x="491.6" y="466.1" width="3.8" height="3.8" fill="#0000ff"/>
<rect x="495.7" y="476.0" width="3.8" height="3.8" fill="#0000ff"/>
<rect x="492.6" y="500.2" width="3.8" height="3.8" fill="#0000ff"/>
<rect x="489.4" y="504.9" width="3.8" height="3.8" fill="#0000ff"/>
<rect x="485.4" y="524.2" width="3.8" height="3.8" fill="#0000ff"/>
<rect x="481.5" y="529.1" width="3.8" height="3.8" fill="#0000ff"/>
<rect x="476.8" y="549.0" width="3.8" height="3.8" fill="#0000ff"/>
<rect x="470.1" y="554.8" width="3.8" height="3.8" fill="#0000ff"/>
<rect x="489.1" y="573.7" width="3.8" height="3.8" fill="#0000ff"/>
<text x="433.0" y="621.9" font-size="14.1" text-anchor="start" textLength="69.7" lengthAdjust="spacingAndGlyphs">CHICHI-049</text>
<path d="M504.4,632.0H437.8" stroke="#000" stroke-width="1.3" fill="none"/>
<path d="M430.2,632.0L439.7,627.5L439.7,636.5Z" fill="#000"/>
<text x="267.9" y="685.6" font-size="21" text-anchor="start" textLength="163.0" lengthAdjust="spacingAndGlyphs">(c) High pier group</text>
</svg>
</body></html>
